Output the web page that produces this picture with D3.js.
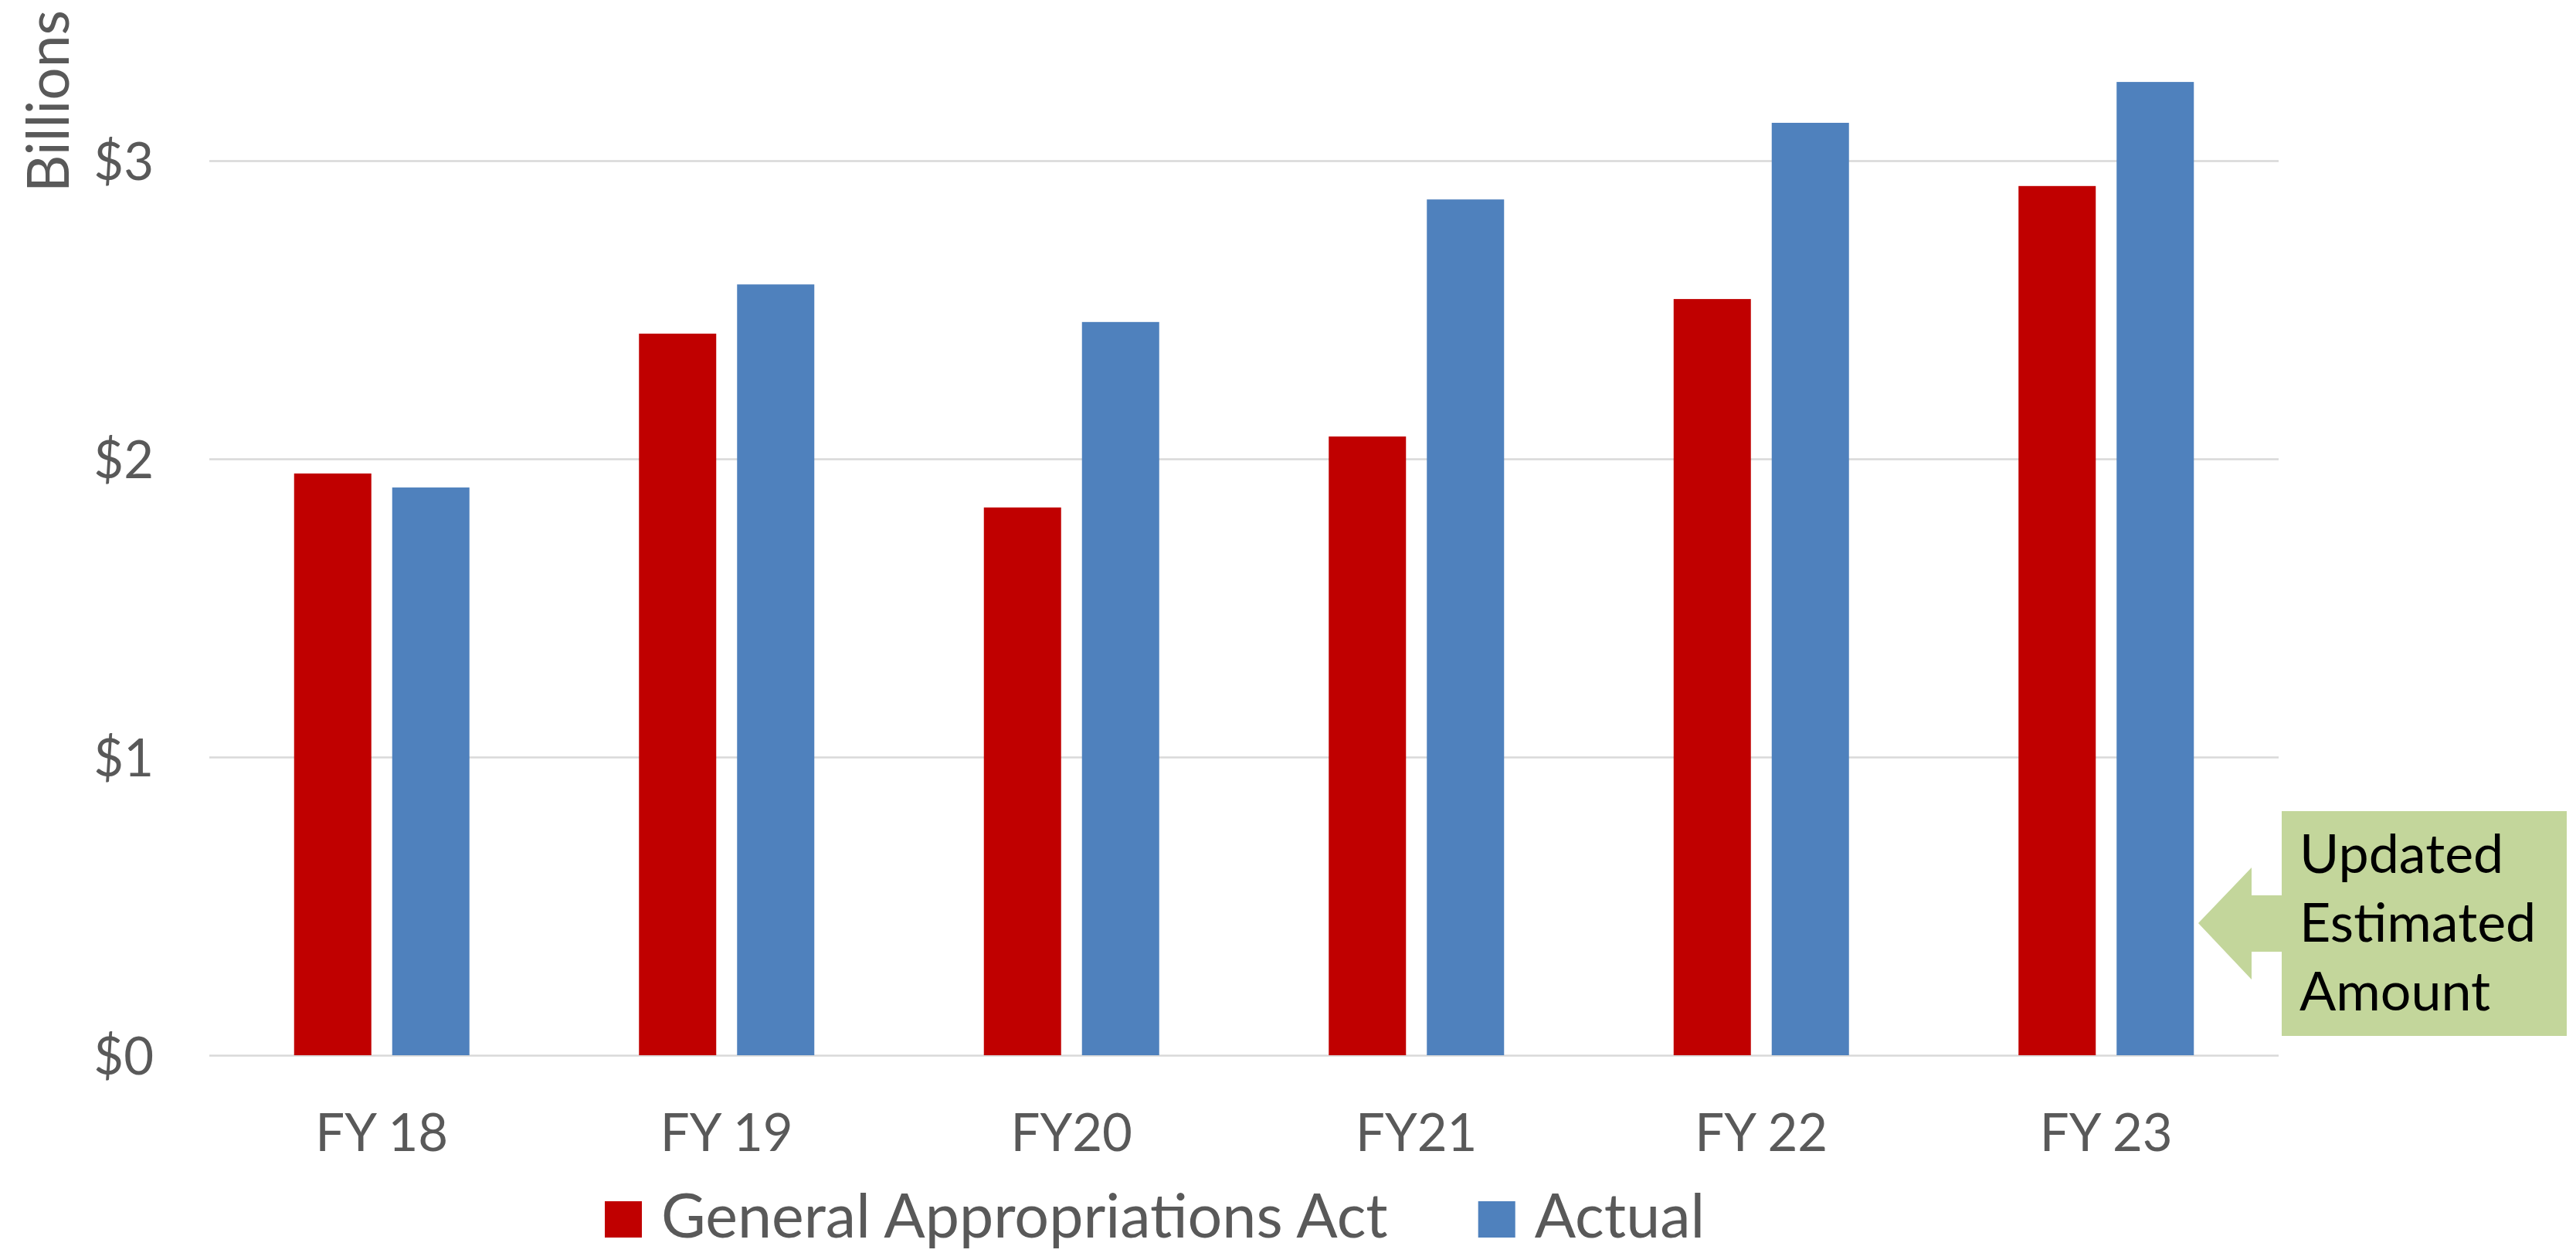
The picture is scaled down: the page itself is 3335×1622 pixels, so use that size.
<!DOCTYPE html>
<html>
<head>
<meta charset="utf-8">
<script src="https://cdn.jsdelivr.net/npm/d3@7"></script>
<style>
  html, body { margin: 0; padding: 0; background: #fff; }
  svg { display: block; }
  text { font-family: Lato, "Open Sans", sans-serif; }
</style>
</head>
<body>
<svg id="chart" width="3335" height="1622"></svg>
<script>
// ---- Data ----
const categories = ["FY 18", "FY 19", "FY20", "FY21", "FY 22", "FY 23"];
const seriesNames = ["General Appropriations Act", "Actual"];
const gaaValues = [1.951, 2.420, 1.837, 2.075, 2.536, 2.915];
const actualValues = [1.904, 2.585, 2.459, 2.870, 3.127, 3.264];
const yTickValues = [0, 1, 2, 3];
const yAxisTitle = "Billions";
const calloutLines = ["Updated", "Estimated", "Amount"];

const colors = ["#C00000", "#4F81BD"];
const textColor = "#595959";

// ---- Layout ----
const svg = d3.select("#chart");
const plot = { left: 271, right: 2950, top: 15, bottom: 1366 };

const x0 = d3.scaleBand()
  .domain(categories)
  .range([plot.left, plot.right])
  .paddingInner(0.4916)
  .paddingOuter(0.2458);

const x1 = d3.scaleBand()
  .domain(seriesNames)
  .range([0, x0.bandwidth()])
  .paddingInner(0.2126)
  .paddingOuter(0);

const y = d3.scaleLinear().domain([0, 3.5]).range([plot.bottom, plot.top]);

// Gridlines + y axis
const yAxis = d3.axisLeft(y)
  .tickValues(yTickValues)
  .tickSize(-(plot.right - plot.left))
  .tickPadding(72)
  .tickFormat(d => "$" + d);

const gy = svg.append("g")
  .attr("transform", `translate(${plot.left},0)`)
  .call(yAxis);
gy.select(".domain").remove();
gy.selectAll(".tick line").attr("stroke", "#D9D9D9").attr("stroke-width", 2.5);
gy.selectAll(".tick text")
  .attr("fill", textColor)
  .attr("font-size", 67)
  .attr("font-family", "Lato, sans-serif")
  .attr("dy", "0.36em");

// Bars
const table = categories.map((c, i) => ({ cat: c, vals: [gaaValues[i], actualValues[i]] }));
const groups = svg.append("g").selectAll("g")
  .data(table)
  .join("g")
  .attr("transform", d => `translate(${x0(d.cat)},0)`);

groups.selectAll("rect")
  .data(d => d.vals.map((v, j) => ({ name: seriesNames[j], v, j })))
  .join("rect")
  .attr("x", d => x1(d.name))
  .attr("width", x1.bandwidth())
  .attr("y", d => y(d.v))
  .attr("height", d => y(0) - y(d.v))
  .attr("fill", d => colors[d.j]);

// X axis labels
const xAxis = d3.axisBottom(x0).tickSize(0).tickPadding(0);
const gx = svg.append("g")
  .attr("transform", `translate(0,${plot.bottom})`)
  .call(xAxis);
gx.select(".domain").remove();
gx.selectAll(".tick text")
  .attr("fill", textColor)
  .attr("font-size", 67)
  .attr("font-family", "Lato, sans-serif")
  .attr("dy", 0)
  .attr("y", 124);

// Y axis title
svg.append("text")
  .attr("transform", "translate(89,131) rotate(-90)")
  .attr("text-anchor", "middle")
  .attr("fill", textColor)
  .attr("font-size", 75)
  .text(yAxisTitle);

// Legend
const legend = svg.append("g");
let lx = 783;
seriesNames.forEach((name, i) => {
  legend.append("rect")
    .attr("x", lx).attr("y", 1555)
    .attr("width", 48).attr("height", 47)
    .attr("fill", colors[i]);
  const t = legend.append("text")
    .attr("x", lx + 73).attr("y", 1602)
    .attr("fill", textColor)
    .attr("font-size", 79)
    .text(name);
  const w = t.node().getComputedTextLength();
  lx = lx + 73 + w + 117;
});

// Callout (arrow + box)
const callout = svg.append("g");
const cBox = { x: 2954, y: 1050, w: 369, h: 291 };
const arrow = d3.path();
arrow.moveTo(2846, 1195);
arrow.lineTo(2915, 1123);
arrow.lineTo(2915, 1159);
arrow.lineTo(cBox.x + 1, 1159);
arrow.lineTo(cBox.x + 1, 1232);
arrow.lineTo(2915, 1232);
arrow.lineTo(2915, 1268);
arrow.closePath();
callout.append("path").attr("d", arrow.toString()).attr("fill", "#C3D69B");
callout.append("rect")
  .attr("x", cBox.x).attr("y", cBox.y)
  .attr("width", cBox.w).attr("height", cBox.h)
  .attr("fill", "#C3D69B");
callout.selectAll("text.c")
  .data(calloutLines)
  .join("text")
  .attr("class", "c")
  .attr("x", 2977)
  .attr("y", (d, i) => 1130 + i * 89)
  .attr("fill", "#000")
  .attr("font-size", 70)
  .text(d => d);
</script>
</body>
</html>
